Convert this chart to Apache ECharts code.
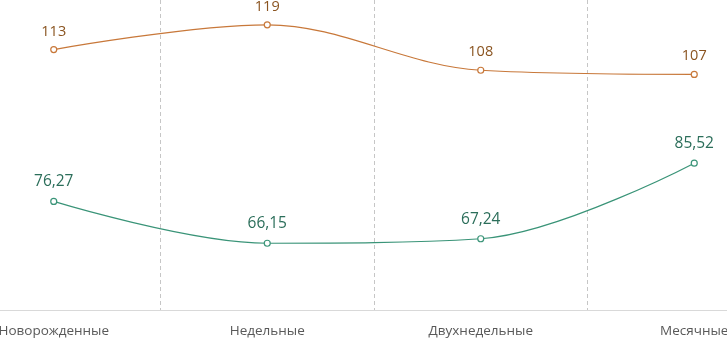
<!DOCTYPE html>
<html><head><meta charset="utf-8">
<script src="https://cdn.jsdelivr.net/npm/echarts@6/dist/echarts.min.js"></script>
<style>html,body{margin:0;padding:0;background:#fff;overflow:hidden;width:727px;height:338px}#c{width:854px;height:338px;margin-left:-53px}</style>
</head><body><div id="c"></div>
<script>
const categories = ["Новорожденные", "Недельные", "Двухнедельные", "Месячные"];
const seriesOrange = [113, 119, 108, 107];
const seriesGreen = [76.27, 66.15, 67.24, 85.52];

const chart = echarts.init(document.getElementById('c'));
const fmt = p => String(p.value).replace('.', ',');
chart.setOption({
  animation: false,
  grid: { left: 0, right: 0, top: 0, bottom: 28 },
  xAxis: {
    type: 'category', data: categories, boundaryGap: true,
    axisLine: { lineStyle: { color: '#d9d9d9', width: 1 } },
    axisTick: { show: false },
    axisLabel: { color: '#595959', fontSize: 13.5, fontFamily: 'Open Sans', margin: 14 },
    splitLine: { show: true, lineStyle: { color: '#c6c6c6', type: [4, 3], width: 1 } }
  },
  yAxis: {
    type: 'value', min: 50, max: 125, show: false, splitLine: { show: false }
  },
  series: [
    {
      type: 'line', data: seriesOrange, smooth: 0.35, symbol: 'circle', symbolSize: 6,
      lineStyle: { color: '#c8783a', width: 1.2 },
      itemStyle: { color: '#fff', borderColor: '#c8783a', borderWidth: 1.2 },
      label: { show: true, position: 'top', distance: 7, color: '#8a5420', fontSize: 14.5, fontFamily: 'Open Sans', formatter: fmt }
    },
    {
      type: 'line', data: seriesGreen, smooth: 0.35, symbol: 'circle', symbolSize: 6,
      lineStyle: { color: '#3a9478', width: 1.2 },
      itemStyle: { color: '#fff', borderColor: '#3a9478', borderWidth: 1.2 },
      label: { show: true, position: 'top', distance: 8, color: '#2b6e5a', fontSize: 15.5, fontFamily: 'Open Sans', formatter: fmt }
    }
  ]
});
</script></body></html>
